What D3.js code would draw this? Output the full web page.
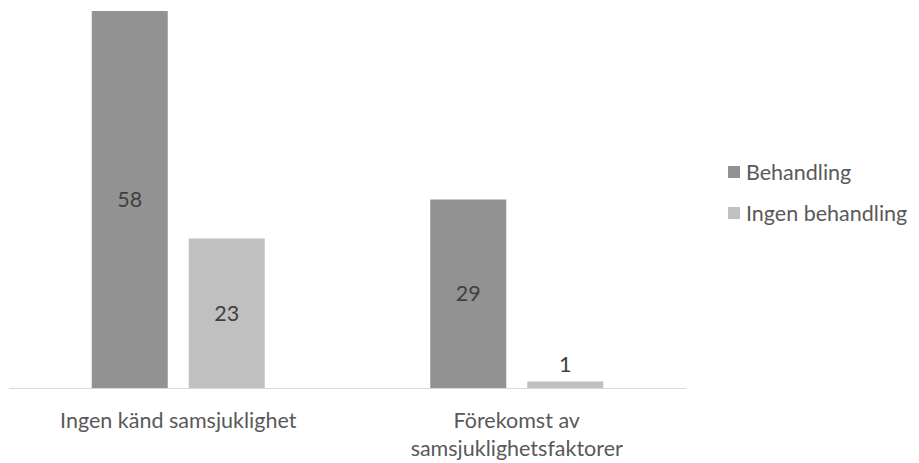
<!DOCTYPE html>
<html>
<head>
<meta charset="utf-8">
<script src="https://cdn.jsdelivr.net/npm/d3@7/dist/d3.min.js"></script>
<style>
  html, body { margin: 0; padding: 0; background: #fff; }
  svg { display: block; }
  text { font-family: Lato, "Open Sans", sans-serif; }
</style>
</head>
<body>
<svg id="chart" width="919" height="463"></svg>
<script>
// Categories (each label split into lines)
const categories = ["Ingen känd samsjuklighet", "Förekomst av samsjuklighetsfaktorer"];
const categoryLines = [["Ingen känd samsjuklighet"], ["Förekomst av", "samsjuklighetsfaktorer"]];
const seriesNames = ["Behandling", "Ingen behandling"];
const behandling = [58, 29];
const ingenBehandling = [23, 1];
const seriesColors = ["#929292", "#c0c0c0"];

const values = [behandling, ingenBehandling];
const data = categories.map((c, i) => ({
  category: c,
  bars: seriesNames.map((s, j) => ({ series: s, value: values[j][i], color: seriesColors[j] }))
}));

const svg = d3.select("#chart");
const plot = { left: 9, right: 686, top: 11, bottom: 388 };
const fontSize = 21.5;

const x0 = d3.scaleBand().domain(categories).range([plot.left, plot.right]).padding(0);
const groupW = 173;
const x1 = d3.scaleBand().domain(seriesNames)
  .range([(x0.bandwidth() - groupW) / 2, (x0.bandwidth() + groupW) / 2])
  .paddingInner(21 / 97).paddingOuter(0);
const y = d3.scaleLinear().domain([0, 58]).range([plot.bottom, plot.top]);

// Bars
const groups = svg.append("g").selectAll("g").data(data).join("g")
  .attr("transform", d => `translate(${x0(d.category)},0)`);

groups.selectAll("rect").data(d => d.bars).join("rect")
  .attr("x", d => x1(d.series))
  .attr("y", d => y(d.value))
  .attr("width", x1.bandwidth())
  .attr("height", d => y(0) - y(d.value))
  .attr("fill", d => d.color);

// Value labels: centred inside tall bars, above small bars
groups.selectAll("text.val").data(d => d.bars).join("text")
  .attr("class", "val")
  .attr("x", d => x1(d.series) + x1.bandwidth() / 2)
  .attr("y", d => {
    const h = y(0) - y(d.value);
    return h > 30 ? (y(d.value) + y(0)) / 2 : y(d.value) - 17.5;
  })
  .attr("dy", "0.35em")
  .attr("text-anchor", "middle")
  .attr("font-size", fontSize)
  .attr("fill", "#404040")
  .text(d => d.value);

// Category axis line
svg.append("line")
  .attr("x1", plot.left).attr("x2", plot.right)
  .attr("y1", plot.bottom + 0.5).attr("y2", plot.bottom + 0.5)
  .attr("stroke", "#d9d9d9").attr("stroke-width", 1);

// Category labels
categories.forEach((c, i) => {
  const t = svg.append("text")
    .attr("text-anchor", "middle")
    .attr("font-size", fontSize)
    .attr("fill", "#595959");
  categoryLines[i].forEach((line, k) => {
    t.append("tspan")
      .attr("x", x0(c) + x0.bandwidth() / 2)
      .attr("y", 428 + k * 28)
      .text(line);
  });
});

// Legend
const legend = svg.append("g").selectAll("g").data(seriesNames).join("g")
  .attr("transform", (d, i) => `translate(728,${172 + i * 41})`);
legend.append("rect")
  .attr("x", 0).attr("y", -6).attr("width", 12).attr("height", 12)
  .attr("fill", (d, i) => seriesColors[i]);
legend.append("text")
  .attr("x", 18).attr("y", 0).attr("dy", "0.35em")
  .attr("font-size", fontSize)
  .attr("fill", "#595959")
  .text(d => d);
</script>
</body>
</html>
